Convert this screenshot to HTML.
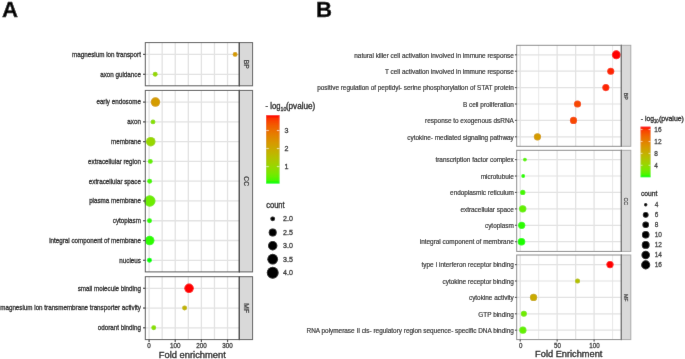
<!DOCTYPE html>
<html><head><meta charset="utf-8"><style>
html,body{margin:0;padding:0;background:#fff;overflow:hidden}
svg{display:block}
text{font-family:"Liberation Sans", sans-serif;stroke-width:0.32px}
</style></head><body>
<svg width="685" height="359" viewBox="0 0 685 359">
<defs><filter id="bl" x="0" y="0" width="685" height="359" filterUnits="userSpaceOnUse"><feConvolveMatrix order="3" kernelMatrix="0.0028 0.0470 0.0028 0.0470 0.8008 0.0470 0.0028 0.0470 0.0028" edgeMode="duplicate"/></filter></defs>
<g filter="url(#bl)">
<rect width="685" height="359" fill="#fff"/>
<text x="1.9" y="16.6" font-size="22.2" font-weight="bold" fill="#000" stroke="#000" style="stroke-width:0.4px">A</text>
<rect x="145.3" y="42.6" width="94.0" height="43.199999999999996" fill="#fff"/>
<line x1="149.10" y1="42.6" x2="149.10" y2="85.8" stroke="#E2E2E2" stroke-width="1.3"/>
<line x1="162.17" y1="42.6" x2="162.17" y2="85.8" stroke="#E2E2E2" stroke-width="1.3"/>
<line x1="175.25" y1="42.6" x2="175.25" y2="85.8" stroke="#E2E2E2" stroke-width="1.3"/>
<line x1="188.32" y1="42.6" x2="188.32" y2="85.8" stroke="#E2E2E2" stroke-width="1.3"/>
<line x1="201.40" y1="42.6" x2="201.40" y2="85.8" stroke="#E2E2E2" stroke-width="1.3"/>
<line x1="214.47" y1="42.6" x2="214.47" y2="85.8" stroke="#E2E2E2" stroke-width="1.3"/>
<line x1="227.55" y1="42.6" x2="227.55" y2="85.8" stroke="#E2E2E2" stroke-width="1.3"/>
<line x1="240.62" y1="42.6" x2="240.62" y2="85.8" stroke="#E2E2E2" stroke-width="1.3"/>
<line x1="145.3" y1="54.40" x2="239.3" y2="54.40" stroke="#E2E2E2" stroke-width="1.3"/>
<line x1="145.3" y1="74.30" x2="239.3" y2="74.30" stroke="#E2E2E2" stroke-width="1.3"/>
<circle cx="235.1" cy="54.40" r="2.45" fill="#D49C00"/>
<circle cx="155.2" cy="74.30" r="2.45" fill="#98D700"/>
<rect x="145.3" y="42.6" width="94.0" height="43.199999999999996" fill="none" stroke="#555555" stroke-width="1.0"/>
<rect x="239.3" y="42.6" width="13.299999999999983" height="43.199999999999996" fill="#D9D9D9" stroke="#5A5A5A" stroke-width="1.0"/>
<line x1="239.3" y1="42.1" x2="239.3" y2="86.3" stroke="#444" stroke-width="1.0"/>
<text x="0" y="0" transform="translate(243.61,64.20) rotate(90)" text-anchor="middle" font-size="7.6" fill="#333" stroke="#333" style="stroke-width:0.25px" textLength="8.94" lengthAdjust="spacingAndGlyphs">BP</text>
<line x1="143.0" y1="54.40" x2="145.3" y2="54.40" stroke="#444" stroke-width="1.2"/>
<text x="140.90" y="56.77" font-size="7.9" text-anchor="end" fill="#222" stroke="#222" textLength="68.78" lengthAdjust="spacingAndGlyphs">magnesium ion transport</text>
<line x1="143.0" y1="74.30" x2="145.3" y2="74.30" stroke="#444" stroke-width="1.2"/>
<text x="140.90" y="76.67" font-size="7.9" text-anchor="end" fill="#222" stroke="#222" textLength="40.66" lengthAdjust="spacingAndGlyphs">axon guidance</text>
<rect x="145.3" y="90.4" width="94.0" height="181.49999999999997" fill="#fff"/>
<line x1="149.10" y1="90.4" x2="149.10" y2="271.9" stroke="#E2E2E2" stroke-width="1.3"/>
<line x1="162.17" y1="90.4" x2="162.17" y2="271.9" stroke="#E2E2E2" stroke-width="1.3"/>
<line x1="175.25" y1="90.4" x2="175.25" y2="271.9" stroke="#E2E2E2" stroke-width="1.3"/>
<line x1="188.32" y1="90.4" x2="188.32" y2="271.9" stroke="#E2E2E2" stroke-width="1.3"/>
<line x1="201.40" y1="90.4" x2="201.40" y2="271.9" stroke="#E2E2E2" stroke-width="1.3"/>
<line x1="214.47" y1="90.4" x2="214.47" y2="271.9" stroke="#E2E2E2" stroke-width="1.3"/>
<line x1="227.55" y1="90.4" x2="227.55" y2="271.9" stroke="#E2E2E2" stroke-width="1.3"/>
<line x1="240.62" y1="90.4" x2="240.62" y2="271.9" stroke="#E2E2E2" stroke-width="1.3"/>
<line x1="145.3" y1="102.10" x2="239.3" y2="102.10" stroke="#E2E2E2" stroke-width="1.3"/>
<line x1="145.3" y1="121.88" x2="239.3" y2="121.88" stroke="#E2E2E2" stroke-width="1.3"/>
<line x1="145.3" y1="141.65" x2="239.3" y2="141.65" stroke="#E2E2E2" stroke-width="1.3"/>
<line x1="145.3" y1="161.42" x2="239.3" y2="161.42" stroke="#E2E2E2" stroke-width="1.3"/>
<line x1="145.3" y1="181.20" x2="239.3" y2="181.20" stroke="#E2E2E2" stroke-width="1.3"/>
<line x1="145.3" y1="200.97" x2="239.3" y2="200.97" stroke="#E2E2E2" stroke-width="1.3"/>
<line x1="145.3" y1="220.75" x2="239.3" y2="220.75" stroke="#E2E2E2" stroke-width="1.3"/>
<line x1="145.3" y1="240.52" x2="239.3" y2="240.52" stroke="#E2E2E2" stroke-width="1.3"/>
<line x1="145.3" y1="260.30" x2="239.3" y2="260.30" stroke="#E2E2E2" stroke-width="1.3"/>
<circle cx="155.45" cy="102.10" r="4.75" fill="#D49C00"/>
<circle cx="153.0" cy="121.88" r="2.45" fill="#8ADF00"/>
<circle cx="150.75" cy="141.65" r="4.75" fill="#98D700"/>
<circle cx="150.3" cy="161.42" r="2.45" fill="#65EF00"/>
<circle cx="149.65" cy="181.20" r="2.45" fill="#49F700"/>
<circle cx="149.75" cy="200.97" r="5.75" fill="#6EEC00"/>
<circle cx="149.5" cy="220.75" r="2.45" fill="#2EFC00"/>
<circle cx="149.7" cy="240.52" r="4.75" fill="#2EFC00"/>
<circle cx="149.45" cy="260.30" r="2.45" fill="#00FF00"/>
<rect x="145.3" y="90.4" width="94.0" height="181.49999999999997" fill="none" stroke="#555555" stroke-width="1.0"/>
<rect x="239.3" y="90.4" width="13.299999999999983" height="181.49999999999997" fill="#D9D9D9" stroke="#5A5A5A" stroke-width="1.0"/>
<line x1="239.3" y1="89.9" x2="239.3" y2="272.4" stroke="#444" stroke-width="1.0"/>
<text x="0" y="0" transform="translate(243.61,181.15) rotate(90)" text-anchor="middle" font-size="7.6" fill="#333" stroke="#333" style="stroke-width:0.25px" textLength="9.68" lengthAdjust="spacingAndGlyphs">CC</text>
<line x1="143.0" y1="102.10" x2="145.3" y2="102.10" stroke="#444" stroke-width="1.2"/>
<text x="140.90" y="104.47" font-size="7.9" text-anchor="end" fill="#222" stroke="#222" textLength="44.47" lengthAdjust="spacingAndGlyphs">early endosome</text>
<line x1="143.0" y1="121.88" x2="145.3" y2="121.88" stroke="#444" stroke-width="1.2"/>
<text x="140.90" y="124.25" font-size="7.9" text-anchor="end" fill="#222" stroke="#222" textLength="13.55" lengthAdjust="spacingAndGlyphs">axon</text>
<line x1="143.0" y1="141.65" x2="145.3" y2="141.65" stroke="#444" stroke-width="1.2"/>
<text x="140.90" y="144.02" font-size="7.9" text-anchor="end" fill="#222" stroke="#222" textLength="29.87" lengthAdjust="spacingAndGlyphs">membrane</text>
<line x1="143.0" y1="161.42" x2="145.3" y2="161.42" stroke="#444" stroke-width="1.2"/>
<text x="140.90" y="163.79" font-size="7.9" text-anchor="end" fill="#222" stroke="#222" textLength="52.80" lengthAdjust="spacingAndGlyphs">extracellular region</text>
<line x1="143.0" y1="181.20" x2="145.3" y2="181.20" stroke="#444" stroke-width="1.2"/>
<text x="140.90" y="183.57" font-size="7.9" text-anchor="end" fill="#222" stroke="#222" textLength="52.11" lengthAdjust="spacingAndGlyphs">extracellular space</text>
<line x1="143.0" y1="200.97" x2="145.3" y2="200.97" stroke="#444" stroke-width="1.2"/>
<text x="140.90" y="203.34" font-size="7.9" text-anchor="end" fill="#222" stroke="#222" textLength="51.75" lengthAdjust="spacingAndGlyphs">plasma membrane</text>
<line x1="143.0" y1="220.75" x2="145.3" y2="220.75" stroke="#444" stroke-width="1.2"/>
<text x="140.90" y="223.12" font-size="7.9" text-anchor="end" fill="#222" stroke="#222" textLength="28.13" lengthAdjust="spacingAndGlyphs">cytoplasm</text>
<line x1="143.0" y1="240.52" x2="145.3" y2="240.52" stroke="#444" stroke-width="1.2"/>
<text x="140.90" y="242.89" font-size="7.9" text-anchor="end" fill="#222" stroke="#222" textLength="91.71" lengthAdjust="spacingAndGlyphs">integral component of membrane</text>
<line x1="143.0" y1="260.30" x2="145.3" y2="260.30" stroke="#444" stroke-width="1.2"/>
<text x="140.90" y="262.67" font-size="7.9" text-anchor="end" fill="#222" stroke="#222" textLength="21.54" lengthAdjust="spacingAndGlyphs">nucleus</text>
<rect x="145.3" y="276.7" width="94.0" height="62.900000000000034" fill="#fff"/>
<line x1="149.10" y1="276.7" x2="149.10" y2="339.6" stroke="#E2E2E2" stroke-width="1.3"/>
<line x1="162.17" y1="276.7" x2="162.17" y2="339.6" stroke="#E2E2E2" stroke-width="1.3"/>
<line x1="175.25" y1="276.7" x2="175.25" y2="339.6" stroke="#E2E2E2" stroke-width="1.3"/>
<line x1="188.32" y1="276.7" x2="188.32" y2="339.6" stroke="#E2E2E2" stroke-width="1.3"/>
<line x1="201.40" y1="276.7" x2="201.40" y2="339.6" stroke="#E2E2E2" stroke-width="1.3"/>
<line x1="214.47" y1="276.7" x2="214.47" y2="339.6" stroke="#E2E2E2" stroke-width="1.3"/>
<line x1="227.55" y1="276.7" x2="227.55" y2="339.6" stroke="#E2E2E2" stroke-width="1.3"/>
<line x1="240.62" y1="276.7" x2="240.62" y2="339.6" stroke="#E2E2E2" stroke-width="1.3"/>
<line x1="145.3" y1="288.30" x2="239.3" y2="288.30" stroke="#E2E2E2" stroke-width="1.3"/>
<line x1="145.3" y1="308.05" x2="239.3" y2="308.05" stroke="#E2E2E2" stroke-width="1.3"/>
<line x1="145.3" y1="327.80" x2="239.3" y2="327.80" stroke="#E2E2E2" stroke-width="1.3"/>
<circle cx="189.05" cy="288.30" r="4.75" fill="#FF0000"/>
<circle cx="184.6" cy="308.05" r="2.45" fill="#C1B400"/>
<circle cx="153.75" cy="327.80" r="2.45" fill="#8ADF00"/>
<rect x="145.3" y="276.7" width="94.0" height="62.900000000000034" fill="none" stroke="#555555" stroke-width="1.0"/>
<rect x="239.3" y="276.7" width="13.299999999999983" height="62.900000000000034" fill="#D9D9D9" stroke="#5A5A5A" stroke-width="1.0"/>
<line x1="239.3" y1="276.2" x2="239.3" y2="340.1" stroke="#444" stroke-width="1.0"/>
<text x="0" y="0" transform="translate(243.61,308.15) rotate(90)" text-anchor="middle" font-size="7.6" fill="#333" stroke="#333" style="stroke-width:0.25px" textLength="9.67" lengthAdjust="spacingAndGlyphs">MF</text>
<line x1="143.0" y1="288.30" x2="145.3" y2="288.30" stroke="#444" stroke-width="1.2"/>
<text x="140.90" y="290.67" font-size="7.9" text-anchor="end" fill="#222" stroke="#222" textLength="63.22" lengthAdjust="spacingAndGlyphs">small molecule binding</text>
<line x1="143.0" y1="308.05" x2="145.3" y2="308.05" stroke="#444" stroke-width="1.2"/>
<text x="140.90" y="310.42" font-size="7.9" text-anchor="end" fill="#222" stroke="#222" textLength="140.67" lengthAdjust="spacingAndGlyphs">magnesium ion transmembrane transporter activity</text>
<line x1="143.0" y1="327.80" x2="145.3" y2="327.80" stroke="#444" stroke-width="1.2"/>
<text x="140.90" y="330.17" font-size="7.9" text-anchor="end" fill="#222" stroke="#222" textLength="43.09" lengthAdjust="spacingAndGlyphs">odorant binding</text>
<line x1="149.10" y1="339.6" x2="149.10" y2="342.0" stroke="#444" stroke-width="1.2"/>
<text x="149.10" y="348.30" font-size="7.7" text-anchor="middle" fill="#333" stroke="#333" textLength="3.50" lengthAdjust="spacingAndGlyphs">0</text>
<line x1="175.25" y1="339.6" x2="175.25" y2="342.0" stroke="#444" stroke-width="1.2"/>
<text x="175.25" y="348.30" font-size="7.7" text-anchor="middle" fill="#333" stroke="#333" textLength="10.51" lengthAdjust="spacingAndGlyphs">100</text>
<line x1="201.40" y1="339.6" x2="201.40" y2="342.0" stroke="#444" stroke-width="1.2"/>
<text x="201.40" y="348.30" font-size="7.7" text-anchor="middle" fill="#333" stroke="#333" textLength="10.51" lengthAdjust="spacingAndGlyphs">200</text>
<line x1="227.55" y1="339.6" x2="227.55" y2="342.0" stroke="#444" stroke-width="1.2"/>
<text x="227.55" y="348.30" font-size="7.7" text-anchor="middle" fill="#333" stroke="#333" textLength="10.51" lengthAdjust="spacingAndGlyphs">300</text>
<text x="158.80" y="358.40" font-size="9.6" fill="#1A1A1A" stroke="#1A1A1A" textLength="67.0" lengthAdjust="spacingAndGlyphs">Fold enrichment</text>
<defs><linearGradient id="gA" x1="0" y1="1" x2="0" y2="0">
<stop offset="0.000" stop-color="#00FF00"/>
<stop offset="0.050" stop-color="#49F700"/>
<stop offset="0.100" stop-color="#65EF00"/>
<stop offset="0.150" stop-color="#7AE700"/>
<stop offset="0.200" stop-color="#8ADF00"/>
<stop offset="0.250" stop-color="#98D700"/>
<stop offset="0.300" stop-color="#A4CE00"/>
<stop offset="0.350" stop-color="#AEC600"/>
<stop offset="0.400" stop-color="#B8BD00"/>
<stop offset="0.450" stop-color="#C1B400"/>
<stop offset="0.500" stop-color="#C9AB00"/>
<stop offset="0.550" stop-color="#D0A100"/>
<stop offset="0.600" stop-color="#D79800"/>
<stop offset="0.650" stop-color="#DD8D00"/>
<stop offset="0.700" stop-color="#E38200"/>
<stop offset="0.750" stop-color="#E87600"/>
<stop offset="0.800" stop-color="#ED6A00"/>
<stop offset="0.850" stop-color="#F25B00"/>
<stop offset="0.900" stop-color="#F74A00"/>
<stop offset="0.950" stop-color="#FB3300"/>
<stop offset="1.000" stop-color="#FF0000"/>
</linearGradient></defs>
<rect x="266.1" y="115.2" width="13.5" height="68.39999999999999" fill="url(#gA)"/>
<line x1="266.1" y1="166.64" x2="268.80" y2="166.64" stroke="#fff" stroke-width="0.6"/>
<line x1="276.90" y1="166.64" x2="279.6" y2="166.64" stroke="#fff" stroke-width="0.6"/>
<line x1="266.1" y1="148.59" x2="268.80" y2="148.59" stroke="#fff" stroke-width="0.6"/>
<line x1="276.90" y1="148.59" x2="279.6" y2="148.59" stroke="#fff" stroke-width="0.6"/>
<line x1="266.1" y1="130.54" x2="268.80" y2="130.54" stroke="#fff" stroke-width="0.6"/>
<line x1="276.90" y1="130.54" x2="279.6" y2="130.54" stroke="#fff" stroke-width="0.6"/>
<text x="284.40" y="168.80" font-size="7.5" fill="#333" stroke="#333" textLength="3.95" lengthAdjust="spacingAndGlyphs">1</text>
<text x="284.40" y="151.10" font-size="7.5" fill="#333" stroke="#333" textLength="3.95" lengthAdjust="spacingAndGlyphs">2</text>
<text x="284.40" y="133.20" font-size="7.5" fill="#333" stroke="#333" textLength="3.95" lengthAdjust="spacingAndGlyphs">3</text>
<text x="265.60" y="108.70" font-size="8.2" fill="#1A1A1A" stroke="#1A1A1A" textLength="14.8" lengthAdjust="spacingAndGlyphs">- log</text>
<text x="280.50" y="111.10" font-size="6.0" fill="#1A1A1A" stroke="#1A1A1A" textLength="5.8" lengthAdjust="spacingAndGlyphs">10</text>
<text x="285.90" y="108.70" font-size="8.2" fill="#1A1A1A" stroke="#1A1A1A" textLength="29.4" lengthAdjust="spacingAndGlyphs">(pvalue)</text>
<text x="266.20" y="207.80" font-size="8.3" fill="#1A1A1A" stroke="#1A1A1A" textLength="18.4" lengthAdjust="spacingAndGlyphs">count</text>
<circle cx="272.7" cy="218.8" r="2.4" fill="#000"/>
<text x="283.10" y="221.30" font-size="7.5" fill="#333" stroke="#333" textLength="9.87" lengthAdjust="spacingAndGlyphs">2.0</text>
<circle cx="272.7" cy="232.4" r="4.0" fill="#000"/>
<text x="283.10" y="234.90" font-size="7.5" fill="#333" stroke="#333" textLength="9.87" lengthAdjust="spacingAndGlyphs">2.5</text>
<circle cx="272.7" cy="245.8" r="4.7" fill="#000"/>
<text x="283.10" y="248.30" font-size="7.5" fill="#333" stroke="#333" textLength="9.87" lengthAdjust="spacingAndGlyphs">3.0</text>
<circle cx="272.7" cy="259.2" r="5.35" fill="#000"/>
<text x="283.10" y="261.70" font-size="7.5" fill="#333" stroke="#333" textLength="9.87" lengthAdjust="spacingAndGlyphs">3.5</text>
<circle cx="272.7" cy="272.8" r="5.95" fill="#000"/>
<text x="283.10" y="275.30" font-size="7.5" fill="#333" stroke="#333" textLength="9.87" lengthAdjust="spacingAndGlyphs">4.0</text>
<text x="316.0" y="16.6" font-size="22.2" font-weight="bold" fill="#000" stroke="#000" style="stroke-width:0.4px">B</text>
<rect x="516.7" y="45.3" width="104.59999999999991" height="101.00000000000001" fill="#fff"/>
<line x1="520.20" y1="45.3" x2="520.20" y2="146.3" stroke="#E2E2E2" stroke-width="1.3"/>
<line x1="538.68" y1="45.3" x2="538.68" y2="146.3" stroke="#E2E2E2" stroke-width="0.8"/>
<line x1="557.15" y1="45.3" x2="557.15" y2="146.3" stroke="#E2E2E2" stroke-width="1.3"/>
<line x1="575.62" y1="45.3" x2="575.62" y2="146.3" stroke="#E2E2E2" stroke-width="1.3"/>
<line x1="594.10" y1="45.3" x2="594.10" y2="146.3" stroke="#E2E2E2" stroke-width="1.3"/>
<line x1="612.58" y1="45.3" x2="612.58" y2="146.3" stroke="#E2E2E2" stroke-width="0.8"/>
<line x1="516.7" y1="54.80" x2="621.3" y2="54.80" stroke="#E2E2E2" stroke-width="1.2"/>
<line x1="516.7" y1="71.20" x2="621.3" y2="71.20" stroke="#E2E2E2" stroke-width="1.2"/>
<line x1="516.7" y1="87.60" x2="621.3" y2="87.60" stroke="#E2E2E2" stroke-width="1.2"/>
<line x1="516.7" y1="104.00" x2="621.3" y2="104.00" stroke="#E2E2E2" stroke-width="1.2"/>
<line x1="516.7" y1="120.40" x2="621.3" y2="120.40" stroke="#E2E2E2" stroke-width="1.2"/>
<line x1="516.7" y1="136.80" x2="621.3" y2="136.80" stroke="#E2E2E2" stroke-width="1.2"/>
<circle cx="616.3" cy="54.80" r="4.45" fill="#FF0000"/>
<circle cx="610.75" cy="71.20" r="3.55" fill="#FD2700"/>
<circle cx="605.85" cy="87.60" r="3.55" fill="#FD2700"/>
<circle cx="577.5" cy="104.00" r="3.6" fill="#F74A00"/>
<circle cx="573.5" cy="120.40" r="3.6" fill="#F74A00"/>
<circle cx="537.45" cy="136.80" r="3.65" fill="#D49C00"/>
<rect x="516.7" y="45.3" width="104.59999999999991" height="101.00000000000001" fill="none" stroke="#8A8A8A" stroke-width="1.0"/>
<rect x="621.3" y="45.3" width="9.5" height="101.00000000000001" fill="#D9D9D9" stroke="#A8A8A8" stroke-width="1.0"/>
<line x1="621.3" y1="44.8" x2="621.3" y2="146.8" stroke="#666" stroke-width="1.0"/>
<text x="0" y="0" transform="translate(623.89,96.20) rotate(90)" text-anchor="middle" font-size="6.0" fill="#333" stroke="#333" style="stroke-width:0.2px" textLength="6.94" lengthAdjust="spacingAndGlyphs">BP</text>
<line x1="514.9000000000001" y1="54.80" x2="516.7" y2="54.80" stroke="#444" stroke-width="1.1"/>
<text x="513.80" y="57.55" font-size="6.42" text-anchor="end" fill="#2A2A2A" stroke="#2A2A2A" style="stroke-width:0.18px">natural killer cell activation involved in immune response</text>
<line x1="514.9000000000001" y1="71.20" x2="516.7" y2="71.20" stroke="#444" stroke-width="1.1"/>
<text x="513.80" y="73.95" font-size="6.42" text-anchor="end" fill="#2A2A2A" stroke="#2A2A2A" style="stroke-width:0.18px">T cell activation involved in immune response</text>
<line x1="514.9000000000001" y1="87.60" x2="516.7" y2="87.60" stroke="#444" stroke-width="1.1"/>
<text x="513.80" y="90.35" font-size="6.42" text-anchor="end" fill="#2A2A2A" stroke="#2A2A2A" style="stroke-width:0.18px">positive regulation of peptidyl- serine phosphorylation of STAT protein</text>
<line x1="514.9000000000001" y1="104.00" x2="516.7" y2="104.00" stroke="#444" stroke-width="1.1"/>
<text x="513.80" y="106.75" font-size="6.42" text-anchor="end" fill="#2A2A2A" stroke="#2A2A2A" style="stroke-width:0.18px">B cell proliferation</text>
<line x1="514.9000000000001" y1="120.40" x2="516.7" y2="120.40" stroke="#444" stroke-width="1.1"/>
<text x="513.80" y="123.15" font-size="6.42" text-anchor="end" fill="#2A2A2A" stroke="#2A2A2A" style="stroke-width:0.18px">response to exogenous dsRNA</text>
<line x1="514.9000000000001" y1="136.80" x2="516.7" y2="136.80" stroke="#444" stroke-width="1.1"/>
<text x="513.80" y="139.55" font-size="6.42" text-anchor="end" fill="#2A2A2A" stroke="#2A2A2A" style="stroke-width:0.18px">cytokine- mediated signaling pathway</text>
<rect x="516.7" y="150.3" width="104.59999999999991" height="101.1" fill="#fff"/>
<line x1="520.20" y1="150.3" x2="520.20" y2="251.4" stroke="#E2E2E2" stroke-width="1.3"/>
<line x1="538.68" y1="150.3" x2="538.68" y2="251.4" stroke="#E2E2E2" stroke-width="0.8"/>
<line x1="557.15" y1="150.3" x2="557.15" y2="251.4" stroke="#E2E2E2" stroke-width="1.3"/>
<line x1="575.62" y1="150.3" x2="575.62" y2="251.4" stroke="#E2E2E2" stroke-width="1.3"/>
<line x1="594.10" y1="150.3" x2="594.10" y2="251.4" stroke="#E2E2E2" stroke-width="1.3"/>
<line x1="612.58" y1="150.3" x2="612.58" y2="251.4" stroke="#E2E2E2" stroke-width="0.8"/>
<line x1="516.7" y1="159.60" x2="621.3" y2="159.60" stroke="#E2E2E2" stroke-width="1.2"/>
<line x1="516.7" y1="176.02" x2="621.3" y2="176.02" stroke="#E2E2E2" stroke-width="1.2"/>
<line x1="516.7" y1="192.44" x2="621.3" y2="192.44" stroke="#E2E2E2" stroke-width="1.2"/>
<line x1="516.7" y1="208.86" x2="621.3" y2="208.86" stroke="#E2E2E2" stroke-width="1.2"/>
<line x1="516.7" y1="225.28" x2="621.3" y2="225.28" stroke="#E2E2E2" stroke-width="1.2"/>
<line x1="516.7" y1="241.70" x2="621.3" y2="241.70" stroke="#E2E2E2" stroke-width="1.2"/>
<circle cx="524.9" cy="159.60" r="1.9" fill="#5BF200"/>
<circle cx="523.2" cy="176.02" r="1.9" fill="#2EFC00"/>
<circle cx="522.75" cy="192.44" r="2.65" fill="#49F700"/>
<circle cx="522.7" cy="208.86" r="3.7" fill="#65EF00"/>
<circle cx="521.7" cy="225.28" r="3.6" fill="#2EFC00"/>
<circle cx="521.5" cy="241.70" r="3.8" fill="#1FFD00"/>
<rect x="516.7" y="150.3" width="104.59999999999991" height="101.1" fill="none" stroke="#8A8A8A" stroke-width="1.0"/>
<rect x="621.3" y="150.3" width="9.5" height="101.1" fill="#D9D9D9" stroke="#A8A8A8" stroke-width="1.0"/>
<line x1="621.3" y1="149.8" x2="621.3" y2="251.9" stroke="#666" stroke-width="1.0"/>
<text x="0" y="0" transform="translate(623.89,201.25) rotate(90)" text-anchor="middle" font-size="6.0" fill="#333" stroke="#333" style="stroke-width:0.2px" textLength="7.51" lengthAdjust="spacingAndGlyphs">CC</text>
<line x1="514.9000000000001" y1="159.60" x2="516.7" y2="159.60" stroke="#444" stroke-width="1.1"/>
<text x="513.80" y="162.35" font-size="6.42" text-anchor="end" fill="#2A2A2A" stroke="#2A2A2A" style="stroke-width:0.18px">transcription factor complex</text>
<line x1="514.9000000000001" y1="176.02" x2="516.7" y2="176.02" stroke="#444" stroke-width="1.1"/>
<text x="513.80" y="178.77" font-size="6.42" text-anchor="end" fill="#2A2A2A" stroke="#2A2A2A" style="stroke-width:0.18px">microtubule</text>
<line x1="514.9000000000001" y1="192.44" x2="516.7" y2="192.44" stroke="#444" stroke-width="1.1"/>
<text x="513.80" y="195.19" font-size="6.42" text-anchor="end" fill="#2A2A2A" stroke="#2A2A2A" style="stroke-width:0.18px">endoplasmic reticulum</text>
<line x1="514.9000000000001" y1="208.86" x2="516.7" y2="208.86" stroke="#444" stroke-width="1.1"/>
<text x="513.80" y="211.61" font-size="6.42" text-anchor="end" fill="#2A2A2A" stroke="#2A2A2A" style="stroke-width:0.18px">extracellular space</text>
<line x1="514.9000000000001" y1="225.28" x2="516.7" y2="225.28" stroke="#444" stroke-width="1.1"/>
<text x="513.80" y="228.03" font-size="6.42" text-anchor="end" fill="#2A2A2A" stroke="#2A2A2A" style="stroke-width:0.18px">cytoplasm</text>
<line x1="514.9000000000001" y1="241.70" x2="516.7" y2="241.70" stroke="#444" stroke-width="1.1"/>
<text x="513.80" y="244.45" font-size="6.42" text-anchor="end" fill="#2A2A2A" stroke="#2A2A2A" style="stroke-width:0.18px">integral component of membrane</text>
<rect x="516.7" y="255.0" width="104.59999999999991" height="84.60000000000002" fill="#fff"/>
<line x1="520.20" y1="255.0" x2="520.20" y2="339.6" stroke="#E2E2E2" stroke-width="1.3"/>
<line x1="538.68" y1="255.0" x2="538.68" y2="339.6" stroke="#E2E2E2" stroke-width="0.8"/>
<line x1="557.15" y1="255.0" x2="557.15" y2="339.6" stroke="#E2E2E2" stroke-width="1.3"/>
<line x1="575.62" y1="255.0" x2="575.62" y2="339.6" stroke="#E2E2E2" stroke-width="1.3"/>
<line x1="594.10" y1="255.0" x2="594.10" y2="339.6" stroke="#E2E2E2" stroke-width="1.3"/>
<line x1="612.58" y1="255.0" x2="612.58" y2="339.6" stroke="#E2E2E2" stroke-width="0.8"/>
<line x1="516.7" y1="264.60" x2="621.3" y2="264.60" stroke="#E2E2E2" stroke-width="1.2"/>
<line x1="516.7" y1="281.00" x2="621.3" y2="281.00" stroke="#E2E2E2" stroke-width="1.2"/>
<line x1="516.7" y1="297.40" x2="621.3" y2="297.40" stroke="#E2E2E2" stroke-width="1.2"/>
<line x1="516.7" y1="313.80" x2="621.3" y2="313.80" stroke="#E2E2E2" stroke-width="1.2"/>
<line x1="516.7" y1="330.20" x2="621.3" y2="330.20" stroke="#E2E2E2" stroke-width="1.2"/>
<circle cx="610.0" cy="264.60" r="3.6" fill="#FF0000"/>
<circle cx="577.55" cy="281.00" r="2.5" fill="#B4C100"/>
<circle cx="533.55" cy="297.40" r="3.65" fill="#C9AB00"/>
<circle cx="523.85" cy="313.80" r="3.05" fill="#72EA00"/>
<circle cx="522.9" cy="330.20" r="3.6" fill="#65EF00"/>
<rect x="516.7" y="255.0" width="104.59999999999991" height="84.60000000000002" fill="none" stroke="#8A8A8A" stroke-width="1.0"/>
<rect x="621.3" y="255.0" width="9.5" height="84.60000000000002" fill="#D9D9D9" stroke="#A8A8A8" stroke-width="1.0"/>
<line x1="621.3" y1="254.5" x2="621.3" y2="340.1" stroke="#666" stroke-width="1.0"/>
<text x="0" y="0" transform="translate(623.89,297.70) rotate(90)" text-anchor="middle" font-size="6.0" fill="#333" stroke="#333" style="stroke-width:0.2px" textLength="7.51" lengthAdjust="spacingAndGlyphs">MF</text>
<line x1="514.9000000000001" y1="264.60" x2="516.7" y2="264.60" stroke="#444" stroke-width="1.1"/>
<text x="513.80" y="267.35" font-size="6.42" text-anchor="end" fill="#2A2A2A" stroke="#2A2A2A" style="stroke-width:0.18px">type I interferon receptor binding</text>
<line x1="514.9000000000001" y1="281.00" x2="516.7" y2="281.00" stroke="#444" stroke-width="1.1"/>
<text x="513.80" y="283.75" font-size="6.42" text-anchor="end" fill="#2A2A2A" stroke="#2A2A2A" style="stroke-width:0.18px">cytokine receptor binding</text>
<line x1="514.9000000000001" y1="297.40" x2="516.7" y2="297.40" stroke="#444" stroke-width="1.1"/>
<text x="513.80" y="300.15" font-size="6.42" text-anchor="end" fill="#2A2A2A" stroke="#2A2A2A" style="stroke-width:0.18px">cytokine activity</text>
<line x1="514.9000000000001" y1="313.80" x2="516.7" y2="313.80" stroke="#444" stroke-width="1.1"/>
<text x="513.80" y="316.55" font-size="6.42" text-anchor="end" fill="#2A2A2A" stroke="#2A2A2A" style="stroke-width:0.18px">GTP binding</text>
<line x1="514.9000000000001" y1="330.20" x2="516.7" y2="330.20" stroke="#444" stroke-width="1.1"/>
<text x="513.80" y="332.95" font-size="6.42" text-anchor="end" fill="#2A2A2A" stroke="#2A2A2A" style="stroke-width:0.18px">RNA polymerase II cis- regulatory region sequence- specific DNA binding</text>
<line x1="520.20" y1="339.6" x2="520.20" y2="341.6" stroke="#444" stroke-width="1.1"/>
<text x="520.60" y="347.90" font-size="8.0" text-anchor="middle" fill="#333" stroke="#333" textLength="3.45" lengthAdjust="spacingAndGlyphs">0</text>
<line x1="557.15" y1="339.6" x2="557.15" y2="341.6" stroke="#444" stroke-width="1.1"/>
<text x="557.55" y="347.90" font-size="8.0" text-anchor="middle" fill="#333" stroke="#333" textLength="6.90" lengthAdjust="spacingAndGlyphs">50</text>
<line x1="594.10" y1="339.6" x2="594.10" y2="341.6" stroke="#444" stroke-width="1.1"/>
<text x="594.50" y="347.90" font-size="8.0" text-anchor="middle" fill="#333" stroke="#333" textLength="10.34" lengthAdjust="spacingAndGlyphs">100</text>
<text x="535.10" y="357.00" font-size="9.4" fill="#1A1A1A" stroke="#1A1A1A" textLength="67.3" lengthAdjust="spacingAndGlyphs">Fold Enrichment</text>
<defs><linearGradient id="gB" x1="0" y1="1" x2="0" y2="0">
<stop offset="0.000" stop-color="#00FF00"/>
<stop offset="0.050" stop-color="#49F700"/>
<stop offset="0.100" stop-color="#65EF00"/>
<stop offset="0.150" stop-color="#7AE700"/>
<stop offset="0.200" stop-color="#8ADF00"/>
<stop offset="0.250" stop-color="#98D700"/>
<stop offset="0.300" stop-color="#A4CE00"/>
<stop offset="0.350" stop-color="#AEC600"/>
<stop offset="0.400" stop-color="#B8BD00"/>
<stop offset="0.450" stop-color="#C1B400"/>
<stop offset="0.500" stop-color="#C9AB00"/>
<stop offset="0.550" stop-color="#D0A100"/>
<stop offset="0.600" stop-color="#D79800"/>
<stop offset="0.650" stop-color="#DD8D00"/>
<stop offset="0.700" stop-color="#E38200"/>
<stop offset="0.750" stop-color="#E87600"/>
<stop offset="0.800" stop-color="#ED6A00"/>
<stop offset="0.850" stop-color="#F25B00"/>
<stop offset="0.900" stop-color="#F74A00"/>
<stop offset="0.950" stop-color="#FB3300"/>
<stop offset="1.000" stop-color="#FF0000"/>
</linearGradient></defs>
<rect x="640.5" y="126.6" width="10.1" height="50.70000000000002" fill="url(#gB)"/>
<line x1="640.5" y1="165.26" x2="642.52" y2="165.26" stroke="#fff" stroke-width="0.6"/>
<line x1="648.58" y1="165.26" x2="650.6" y2="165.26" stroke="#fff" stroke-width="0.6"/>
<line x1="640.5" y1="153.36" x2="642.52" y2="153.36" stroke="#fff" stroke-width="0.6"/>
<line x1="648.58" y1="153.36" x2="650.6" y2="153.36" stroke="#fff" stroke-width="0.6"/>
<line x1="640.5" y1="141.47" x2="642.52" y2="141.47" stroke="#fff" stroke-width="0.6"/>
<line x1="648.58" y1="141.47" x2="650.6" y2="141.47" stroke="#fff" stroke-width="0.6"/>
<line x1="640.5" y1="129.57" x2="642.52" y2="129.57" stroke="#fff" stroke-width="0.6"/>
<line x1="648.58" y1="129.57" x2="650.6" y2="129.57" stroke="#fff" stroke-width="0.6"/>
<text x="654.30" y="167.60" font-size="7.0" fill="#444" stroke="#444" textLength="3.61" lengthAdjust="spacingAndGlyphs">4</text>
<text x="654.30" y="155.70" font-size="7.0" fill="#444" stroke="#444" textLength="3.61" lengthAdjust="spacingAndGlyphs">8</text>
<text x="654.30" y="143.60" font-size="7.0" fill="#444" stroke="#444" textLength="7.23" lengthAdjust="spacingAndGlyphs">12</text>
<text x="654.30" y="131.90" font-size="7.0" fill="#444" stroke="#444" textLength="7.23" lengthAdjust="spacingAndGlyphs">16</text>
<text x="640.80" y="120.90" font-size="7.8" fill="#1A1A1A" stroke="#1A1A1A" textLength="13.2" lengthAdjust="spacingAndGlyphs">- log</text>
<text x="654.00" y="122.50" font-size="5.2" fill="#1A1A1A" stroke="#1A1A1A" textLength="4.6" lengthAdjust="spacingAndGlyphs">10</text>
<text x="658.90" y="120.90" font-size="7.8" fill="#1A1A1A" stroke="#1A1A1A" textLength="25.0" lengthAdjust="spacingAndGlyphs">(pvalue)</text>
<text x="640.90" y="196.00" font-size="7.6" fill="#1A1A1A" stroke="#1A1A1A" textLength="16.4" lengthAdjust="spacingAndGlyphs">count</text>
<circle cx="645.7" cy="204.8" r="1.7" fill="#000"/>
<text x="654.70" y="207.20" font-size="7.0" fill="#444" stroke="#444" textLength="3.61" lengthAdjust="spacingAndGlyphs">4</text>
<circle cx="645.7" cy="214.8" r="2.9" fill="#000"/>
<text x="654.70" y="217.20" font-size="7.0" fill="#444" stroke="#444" textLength="3.61" lengthAdjust="spacingAndGlyphs">6</text>
<circle cx="645.7" cy="224.8" r="3.3" fill="#000"/>
<text x="654.70" y="227.20" font-size="7.0" fill="#444" stroke="#444" textLength="3.61" lengthAdjust="spacingAndGlyphs">8</text>
<circle cx="645.7" cy="234.8" r="3.8" fill="#000"/>
<text x="654.70" y="237.20" font-size="7.0" fill="#444" stroke="#444" textLength="7.23" lengthAdjust="spacingAndGlyphs">10</text>
<circle cx="645.7" cy="244.9" r="3.95" fill="#000"/>
<text x="654.70" y="247.30" font-size="7.0" fill="#444" stroke="#444" textLength="7.23" lengthAdjust="spacingAndGlyphs">12</text>
<circle cx="645.7" cy="254.9" r="4.25" fill="#000"/>
<text x="654.70" y="257.30" font-size="7.0" fill="#444" stroke="#444" textLength="7.23" lengthAdjust="spacingAndGlyphs">14</text>
<circle cx="645.7" cy="264.9" r="4.55" fill="#000"/>
<text x="654.70" y="267.30" font-size="7.0" fill="#444" stroke="#444" textLength="7.23" lengthAdjust="spacingAndGlyphs">16</text>
</g>
</svg>
</body></html>
